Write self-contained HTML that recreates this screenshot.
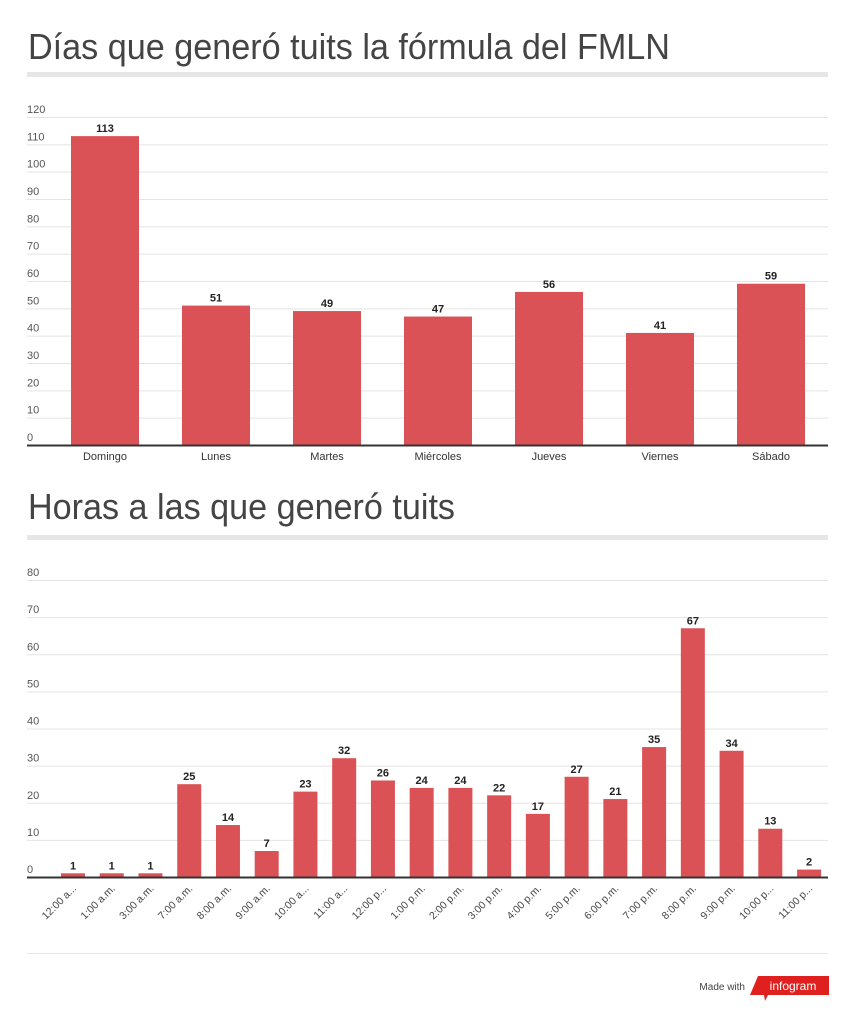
<!DOCTYPE html>
<html><head><meta charset="utf-8"><style>
html,body{margin:0;padding:0;background:#fff;}
svg{display:block;font-family:"Liberation Sans",Arial,sans-serif;}
</style></head><body>
<svg id="s" width="856" height="1024" viewBox="0 0 856 1024">
<text x="28" y="59" font-size="36" fill="#444" textLength="642" lengthAdjust="spacingAndGlyphs">Días que generó tuits la fórmula del FMLN</text>
<rect x="27" y="72" width="801" height="5" fill="#e6e6e6"/>
<g id="c1"></g>
<text x="28" y="519" font-size="36" fill="#444" textLength="427" lengthAdjust="spacingAndGlyphs">Horas a las que generó tuits</text>
<rect x="27" y="535" width="801" height="5" fill="#e6e6e6"/>
<g id="c2"></g>
<line x1="27" y1="953.5" x2="828" y2="953.5" stroke="#e6e6e6"/>
<text x="745" y="990" font-size="10" fill="#444" text-anchor="end">Made with</text>
<g>
<polygon points="758,976 829,976 829,995 768,995 765,1001 764,995 750,995" fill="#e0201f"/>
<text x="793" y="990" font-size="12" fill="#fff" text-anchor="middle">infogram</text>
</g>
</svg>
<script>
const days=["Domingo","Lunes","Martes","Miércoles","Jueves","Viernes","Sábado"];
const dayValues=[113,51,49,47,56,41,59];
const dayTicks=[0,10,20,30,40,50,60,70,80,90,100,110,120];
const hours=["12:00 a...","1:00 a.m.","3:00 a.m.","7:00 a.m.","8:00 a.m.","9:00 a.m.","10:00 a...","11:00 a...","12:00 p...","1:00 p.m.","2:00 p.m.","3:00 p.m.","4:00 p.m.","5:00 p.m.","6:00 p.m.","7:00 p.m.","8:00 p.m.","9:00 p.m.","10:00 p...","11:00 p..."];
const hourValues=[1,1,1,25,14,7,23,32,26,24,24,22,17,27,21,35,67,34,13,2];
const hourTicks=[0,10,20,30,40,50,60,70,80];
const NS="http://www.w3.org/2000/svg";
function mk(p,tag,at){const e=document.createElementNS(NS,tag);for(const k in at)e.setAttribute(k,at[k]);p.appendChild(e);return e;}
function draw(g,cats,vals,ticks,o){
  const y=v=>o.base-(v/o.max)*(o.base-o.top);
  const x=i=>o.x0+o.step*i;
  ticks.forEach(t=>{
    if(t>0){const l=mk(g,'line',{x1:27,x2:828,y1:y(t)+0.5,y2:y(t)+0.5,stroke:'#e4e4e4'});
    
    }
    const tx=mk(g,'text',{x:27,y:y(t)-4,'font-size':11,fill:'#555'});tx.textContent=t;
    
    
  });
  cats.forEach((c,i)=>{
    const v=vals[i];
    const r=mk(g,'rect',{x:x(i)-o.bw/2,y:y(v),width:o.bw,height:o.base-y(v),fill:'#da5255'});
    
    
    const vt=mk(g,'text',{x:x(i),y:y(v)-4,'font-size':11,'font-weight':'bold',fill:'#222','text-anchor':'middle'});vt.textContent=v;
    
    
    let ct;
    if(o.rot){ct=mk(g,'text',{x:x(i)+4,y:o.base+12,'font-size':10.5,fill:'#444','text-anchor':'end',transform:`rotate(-45 ${x(i)+4} ${o.base+12})`});}
    else{ct=mk(g,'text',{x:x(i),y:o.base+15,'font-size':11,fill:'#333','text-anchor':'middle'});}
    ct.textContent=c;
    
    
  });
  const ax=mk(g,'line',{x1:27,x2:828,y1:o.base+0.5,y2:o.base+0.5,stroke:'#333','stroke-width':2});
  
  
}
draw(document.getElementById('c1'),days,dayValues,dayTicks,{base:445,top:117,max:120,x0:105,step:111,bw:68,rot:false});
draw(document.getElementById('c2'),hours,hourValues,hourTicks,{base:877,top:580,max:80,x0:73,step:38.74,bw:24,rot:true});
</script>
</body></html>
